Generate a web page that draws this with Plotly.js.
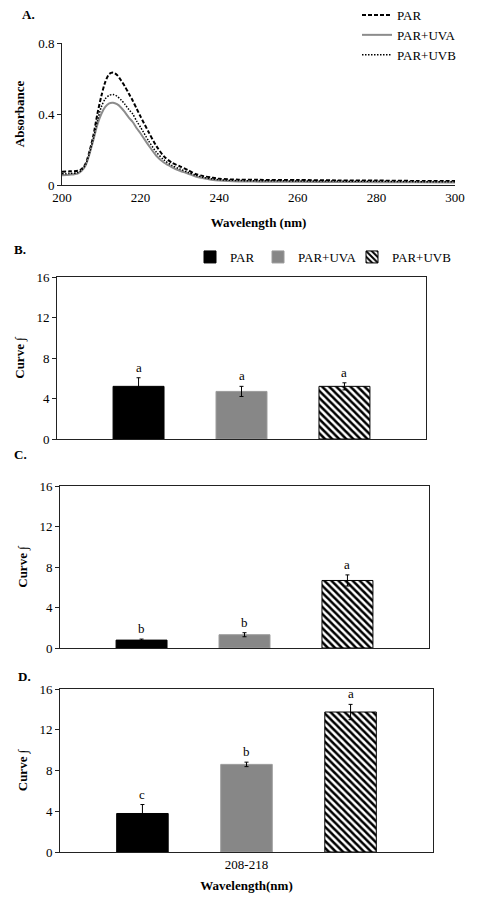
<!DOCTYPE html>
<html>
<head>
<meta charset="utf-8">
<script src="https://cdn.plot.ly/plotly-3.0.1.min.js"></script>
<style>html,body{margin:0;padding:0;background:#fff}#chart{width:478px;height:899px}</style>
</head>
<body>
<div id="chart"></div>
<script>
// ---- Panel A: absorbance spectra ----
const wavelength = [200,202,204,205,206,207,208,209,210,211,212,213,214,215,216,217,218,219,220,222,224,226,228,230,232,234,236,238,240,245,250,260,270,280,290,300];
const absPAR = [0.075,0.077,0.080,0.090,0.120,0.190,0.280,0.400,0.500,0.580,0.625,0.633,0.620,0.590,0.555,0.515,0.475,0.430,0.385,0.300,0.220,0.160,0.125,0.105,0.085,0.062,0.050,0.042,0.035,0.030,0.029,0.028,0.026,0.025,0.023,0.022];
const absUVA = [0.055,0.058,0.065,0.080,0.110,0.175,0.255,0.340,0.400,0.440,0.460,0.463,0.455,0.437,0.410,0.380,0.355,0.320,0.290,0.225,0.165,0.125,0.100,0.080,0.065,0.048,0.038,0.030,0.025,0.020,0.019,0.018,0.017,0.016,0.015,0.014];
const absUVB = [0.063,0.065,0.070,0.085,0.115,0.180,0.265,0.360,0.440,0.485,0.505,0.510,0.500,0.480,0.455,0.425,0.400,0.360,0.325,0.250,0.185,0.140,0.110,0.090,0.072,0.055,0.043,0.035,0.030,0.025,0.024,0.023,0.022,0.021,0.019,0.018];
const seriesNames = ["PAR","PAR+UVA","PAR+UVB"];

// ---- Panels B, C, D: integrated curve ----
const category = ["208-218"];
const valB = [5.2, 4.7, 5.2];
const errB = [0.85, 0.5, 0.35];
const letB = ["a","a","a"];
const valC = [0.78, 1.31, 6.67];
const errC = [0.1, 0.2, 0.55];
const letC = ["b","b","a"];
const valD = [3.78, 8.6, 13.74];
const errD = [0.88, 0.22, 0.75];
const letD = ["c","b","a"];

const W = 478, H = 899;
const FONT = "Liberation Serif, Times New Roman, serif";
const BARGAP = 0.163;
const slot = (1 - BARGAP) / 3;

function dx(a, b){ return [a / W, b / W]; }
function dy(top, bottom){ return [1 - bottom / H, 1 - top / H]; }

const barColors = ["#000000", "#878787", "#ffffff"];
const barLines = ["#000000", "#9a9a9a", "#000000"];

const traces = [
  {x: wavelength, y: absPAR, name: seriesNames[0], type: "scatter", mode: "lines", xaxis: "x", yaxis: "y",
   line: {color: "#000", width: 2, dash: "4px,2px", shape: "spline", smoothing: 0.8}, legend: "legend"},
  {x: wavelength, y: absUVA, name: seriesNames[1], type: "scatter", mode: "lines", xaxis: "x", yaxis: "y",
   line: {color: "#8c8c8c", width: 2, shape: "spline", smoothing: 0.8}, legend: "legend"},
  {x: wavelength, y: absUVB, name: seriesNames[2], type: "scatter", mode: "lines", xaxis: "x", yaxis: "y",
   line: {color: "#000", width: 1.5, dash: "1.5px,1.5px", shape: "spline", smoothing: 0.8}, legend: "legend"}
];

const panels = [
  {vals: valB, errs: errB, lets: letB, ax: "2"},
  {vals: valC, errs: errC, lets: letC, ax: "3"},
  {vals: valD, errs: errD, lets: letD, ax: "4"}
];
const annotations = [];
const barLegends = ["legend2", "legend3", "legend4"];
panels.forEach((p, pi) => {
  for (let i = 0; i < 3; i++) {
    const marker = {color: barColors[i], line: {color: barLines[i], width: 1}};
    if (i === 2) marker.pattern = {shape: "\\", fgcolor: "#000", bgcolor: "#fff", size: 5, solidity: 0.5};
    traces.push({
      type: "bar", x: category, y: [p.vals[i]], name: seriesNames[i],
      xaxis: "x" + p.ax, yaxis: "y" + p.ax, marker: marker,
      error_y: {type: "data", array: [p.errs[i]], visible: true, color: "#000", thickness: 1, width: 2},
      showlegend: pi === 0, legend: barLegends[i], offsetgroup: String(i)
    });
    annotations.push({
      xref: "x" + p.ax, yref: "y" + p.ax, x: (i - 1) * slot, y: p.vals[i] + p.errs[i],
      text: p.lets[i], showarrow: false, yanchor: "bottom", yshift: 1,
      font: {family: FONT, size: 13, color: "#000"}
    });
  }
});

const panelLabels = [["A.", 20, 14], ["B.", 12, 249], ["C.", 12, 454], ["D.", 16, 676]];
panelLabels.forEach(l => annotations.push({
  xref: "paper", yref: "paper", x: l[1] / W, y: 1 - l[2] / H, xanchor: "left", yanchor: "middle",
  text: "<b>" + l[0] + "</b>", showarrow: false, font: {family: FONT, size: 13, color: "#000"}
}));

const tickFont = {family: FONT, size: 13, color: "#000"};
const titleFont = {family: FONT, size: 13, color: "#000"};

function barY(domain, anchor){
  return {domain: domain, anchor: anchor, range: [0, 16], dtick: 4, tick0: 0, showline: true, mirror: true, linecolor: "#222", linewidth: 1,
    ticks: "outside", ticklen: 4, tickcolor: "#222", showgrid: false, zeroline: false, tickfont: tickFont,
    title: {text: "<b>Curve ∫</b>", font: titleFont, standoff: 8}, fixedrange: true};
}
function barX(domain, anchor, showLabels){
  return {domain: domain, anchor: anchor, type: "category", showline: true, mirror: true, linecolor: "#222", linewidth: 1,
    ticks: "", showticklabels: showLabels, tickfont: tickFont, showgrid: false, zeroline: false, fixedrange: true};
}

const legendBase = {orientation: "h", yanchor: "middle", y: 1 - 257 / H, xanchor: "left",
  font: {family: FONT, size: 13, color: "#000"}, bgcolor: "rgba(0,0,0,0)", borderwidth: 0};

const layout = {
  width: W, height: H, margin: {l: 0, r: 0, t: 0, b: 0},
  paper_bgcolor: "#fff", plot_bgcolor: "#fff",
  font: {family: FONT, size: 13, color: "#000"},
  barmode: "group", bargap: BARGAP, bargroupgap: 0.505,
  xaxis: {domain: dx(62, 455), anchor: "y", range: [200, 300], dtick: 20, tick0: 200, showline: true, linecolor: "#222", linewidth: 1,
    ticks: "", showgrid: false, zeroline: false, tickfont: tickFont,
    title: {text: "<b>Wavelength (nm)</b>", font: titleFont, standoff: 14}},
  yaxis: {domain: dy(43, 185), anchor: "x", range: [0, 0.8], dtick: 0.4, tick0: 0, showline: true, linecolor: "#222", linewidth: 1,
    ticks: "outside", ticklen: 4, tickcolor: "#222", showgrid: false, zeroline: false, tickfont: tickFont,
    title: {text: "<b>Absorbance</b>", font: titleFont, standoff: 10}},
  xaxis2: barX(dx(57, 426), "y2", false), yaxis2: barY(dy(277, 439), "x2"),
  xaxis3: barX(dx(60, 429), "y3", false), yaxis3: barY(dy(486, 648), "x3"),
  xaxis4: Object.assign(barX(dx(60, 433), "y4", true), {title: {text: "<b>Wavelength(nm)</b>", font: titleFont, standoff: 10}}),
  yaxis4: barY(dy(689, 852), "x4"),
  legend: {orientation: "v", x: 357 / W, xanchor: "left", y: 1, yanchor: "top",
    font: {family: FONT, size: 13, color: "#000"}, bgcolor: "rgba(0,0,0,0)", borderwidth: 0, tracegroupgap: 0},
  legend2: Object.assign({}, legendBase, {x: 190 / W}),
  legend3: Object.assign({}, legendBase, {x: 258 / W}),
  legend4: Object.assign({}, legendBase, {x: 352 / W}),
  annotations: annotations,
  showlegend: true
};

Plotly.newPlot("chart", traces, layout, {staticPlot: true, displayModeBar: false});
</script>
</body>
</html>
